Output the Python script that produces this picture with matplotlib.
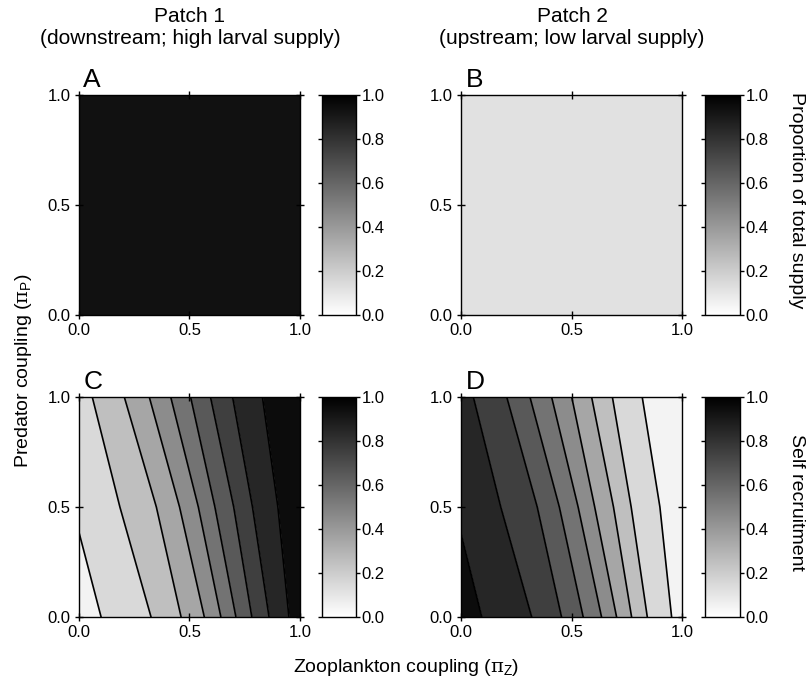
import matplotlib
matplotlib.use("Agg")
import matplotlib.pyplot as plt
import numpy as np
from matplotlib.cm import ScalarMappable
from matplotlib.colors import Normalize

plt.rcParams["font.family"] = ["Liberation Sans", "DejaVu Sans"]
plt.rcParams["mathtext.fontset"] = "custom"
plt.rcParams["mathtext.rm"] = "Liberation Sans"
plt.rcParams["mathtext.it"] = "DejaVu Serif"

# uniform values in panels A and B
value_a = 0.93
value_b = 0.12

line_y = [0.0, 0.5, 1.0]
lines_c = [
    [0.100, -0.030, -0.160],
    [0.326, 0.185, 0.060],
    [0.462, 0.350, 0.205],
    [0.567, 0.455, 0.318],
    [0.642, 0.540, 0.415],
    [0.710, 0.615, 0.505],
    [0.782, 0.700, 0.595],
    [0.860, 0.785, 0.695],
    [0.950, 0.900, 0.830],
]
bands_c = [0.05, 0.15, 0.25, 0.35, 0.45, 0.55, 0.65, 0.75, 0.85, 0.95]

lines_d = [
    [0.094, -0.030, -0.160],
    [0.320, 0.180, 0.056],
    [0.455, 0.345, 0.207],
    [0.553, 0.445, 0.312],
    [0.636, 0.530, 0.410],
    [0.704, 0.605, 0.501],
    [0.772, 0.690, 0.591],
    [0.843, 0.770, 0.685],
    [0.953, 0.900, 0.820],
]
bands_d = [0.95, 0.85, 0.75, 0.65, 0.55, 0.45, 0.35, 0.25, 0.15, 0.05]

ticks = [0.0, 0.5, 1.0]
cbar_ticks = [0.0, 0.2, 0.4, 0.6, 0.8, 1.0]

cmap = plt.get_cmap("gray_r")
norm = Normalize(0, 1)

W, H = 811, 687
fig = plt.figure(figsize=(W / 100, H / 100), dpi=100)

TICK_FS = 12
LABEL_FS = 14


def px_axes(x0, y0, x1, y1):
    return fig.add_axes([x0 / W, 1 - y1 / H, (x1 - x0) / W, (y1 - y0) / H])


def style_main(ax, letter):
    ax.set_xlim(0, 1)
    ax.set_ylim(0, 1)
    ax.set_xticks(ticks)
    ax.set_yticks(ticks)
    ax.set_xticklabels(["0.0", "0.5", "1.0"])
    ax.set_yticklabels(["0.0", "0.5", "1.0"])
    ax.tick_params(direction="inout", length=6, width=1, top=True, right=True,
                   labelsize=TICK_FS, pad=3)
    for s in ax.spines.values():
        s.set_linewidth(1)
    ax.text(0.02, 1.015, letter, transform=ax.transAxes, ha="left", va="bottom",
            fontsize=19)


def style_cbar(cax):
    cb = fig.colorbar(ScalarMappable(norm=norm, cmap=cmap), cax=cax)
    cb.set_ticks(cbar_ticks)
    cb.set_ticklabels([f"{t:.1f}" for t in cbar_ticks])
    cax.yaxis.set_ticks_position("both")
    cax.tick_params(direction="out", length=3, width=1, labelsize=TICK_FS,
                    labelleft=False, labelright=True, pad=1)
    cb.outline.set_linewidth(1)


def uniform_panel(ax, val):
    ax.pcolormesh([0, 1], [0, 1], [[val]], cmap=cmap, norm=norm)


def contour_panel(ax, lines, bands):
    ys = np.array(line_y)
    edges = [[-1.0] * len(ys)] + lines + [[2.0] * len(ys)]
    for k, val in enumerate(bands):
        ax.fill_betweenx(ys, edges[k], edges[k + 1], color=cmap(norm(val)), lw=0)
    for ln in lines:
        ax.plot(ln, ys, color="black", lw=1.2)


ax_a = px_axes(79, 95, 300, 315)
ax_b = px_axes(461, 95, 682, 315)
ax_c = px_axes(79, 397, 300, 617)
ax_d = px_axes(461, 397, 682, 617)
cax_a = px_axes(322, 95, 356, 315)
cax_b = px_axes(705, 95, 740, 315)
cax_c = px_axes(322, 397, 356, 617)
cax_d = px_axes(705, 397, 740, 617)

uniform_panel(ax_a, value_a)
uniform_panel(ax_b, value_b)
contour_panel(ax_c, lines_c, bands_c)
contour_panel(ax_d, lines_d, bands_d)

for ax, letter in zip([ax_a, ax_b, ax_c, ax_d], "ABCD"):
    style_main(ax, letter)
for cax in [cax_a, cax_b, cax_c, cax_d]:
    style_cbar(cax)

fig.text(190 / W, 1 - 7 / H, "Patch 1\n(downstream; high larval supply)",
         ha="center", va="top", fontsize=15, linespacing=1.2)
fig.text(572 / W, 1 - 7 / H, "Patch 2\n(upstream; low larval supply)",
         ha="center", va="top", fontsize=15, linespacing=1.2)

fig.text(24 / W, 1 - 371 / H, r"Predator coupling ($\pi_{\rm P}$)",
         rotation=90, ha="center", va="center", fontsize=LABEL_FS)
fig.text(406 / W, 1 - 667 / H, r"Zooplankton coupling ($\pi_{\rm Z}$)",
         ha="center", va="center", fontsize=LABEL_FS)
fig.text(796 / W, 1 - 200 / H, "Proportion of total supply",
         rotation=270, ha="center", va="center", fontsize=LABEL_FS)
fig.text(796 / W, 1 - 502 / H, "Self recruitment",
         rotation=270, ha="center", va="center", fontsize=LABEL_FS)

fig.savefig("out.png", dpi=100)
